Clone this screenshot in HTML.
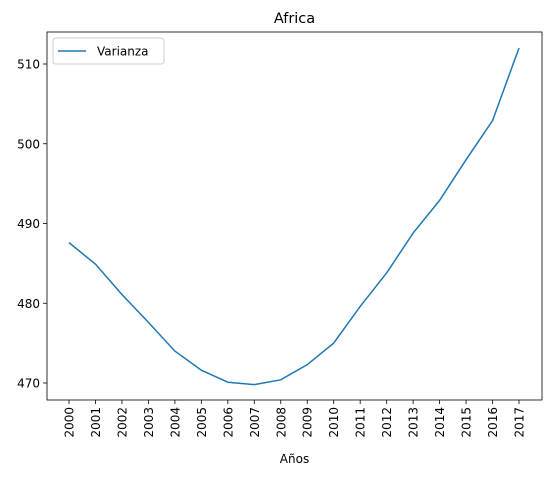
<!DOCTYPE html>
<html><head><meta charset="utf-8"><style>
body{margin:0;background:#fff;}
svg{font-family:"DejaVu Sans","Liberation Sans",sans-serif;}
</style></head><body>
<svg id="chart" width="552" height="476" xmlns="http://www.w3.org/2000/svg"></svg>
<script>
const years=[2000,2001,2002,2003,2004,2005,2006,2007,2008,2009,2010,2011,2012,2013,2014,2015,2016,2017];
const varianza=[487.6,484.9,481.1,477.6,474.0,471.6,470.1,469.8,470.4,472.3,475.0,479.6,483.8,488.8,492.9,498.0,502.9,512.0];
const yTicks=[470,480,490,500,510];
const NS="http://www.w3.org/2000/svg";
const svg=document.getElementById('chart');
const L=47,R=542,T=32,B=400;
function xs(i){return 69+i*(519-69)/(years.length-1);}
function ys(v){return 383-(v-470)*(383-64)/40;}
function mk(t,a,txt){const e=document.createElementNS(NS,t);for(const k in a)e.setAttribute(k,a[k]);if(txt!==undefined)e.textContent=txt;svg.appendChild(e);return e;}
let e;
e=mk('rect',{x:L,y:T,width:R-L,height:B-T,fill:'none',stroke:'#000','stroke-width':0.8});

yTicks.forEach(v=>{
 e=mk('line',{x1:L-4,x2:L,y1:ys(v),y2:ys(v),stroke:'#000','stroke-width':0.8});
 
 e=mk('text',{x:L-7,y:ys(v)+4.5,'text-anchor':'end','font-size':12,fill:'#000'},v);
 
});
years.forEach((y,i)=>{
 e=mk('line',{x1:xs(i),x2:xs(i),y1:B,y2:B+4,stroke:'#000','stroke-width':0.8});
 
 e=mk('text',{x:0,y:0,transform:`translate(${xs(i)+4.5},${B+7}) rotate(-90)`,'text-anchor':'end','font-size':12,fill:'#000'},y);
 
});
e=mk('polyline',{points:varianza.map((v,i)=>xs(i)+','+ys(v)).join(' '),fill:'none',stroke:'#1f77b4','stroke-width':1.5});

e=mk('text',{x:(L+R)/2,y:23,'text-anchor':'middle','font-size':14.5,fill:'#000'},'Africa');

e=mk('text',{x:(L+R)/2,y:463,'text-anchor':'middle','font-size':12,fill:'#000'},'Años');

e=mk('rect',{x:53,y:38,width:111,height:26,rx:3,fill:'#fff',stroke:'#ccc','stroke-width':1});

e=mk('line',{x1:58,x2:86,y1:51,y2:51,stroke:'#1f77b4','stroke-width':1.5});

e=mk('text',{x:97,y:55.5,'font-size':12,fill:'#000'},'Varianza');

</script>
</body></html>
